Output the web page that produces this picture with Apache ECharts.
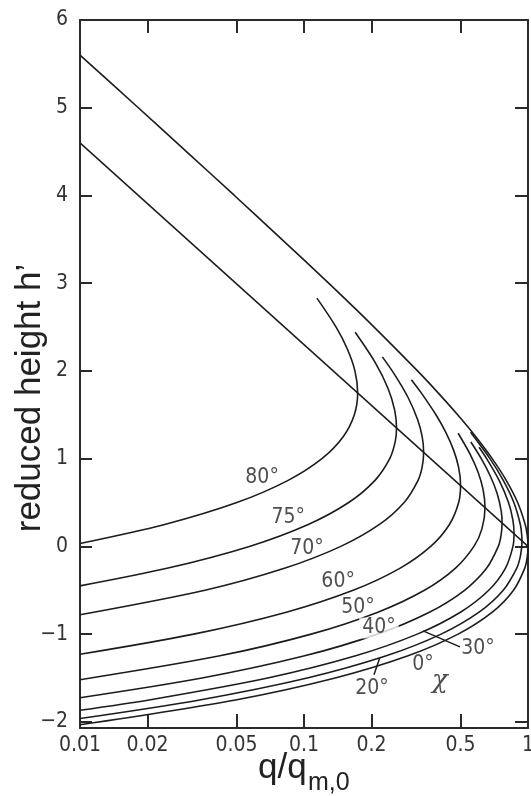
<!DOCTYPE html>
<html>
<head>
<meta charset="utf-8">
<script src="https://cdn.jsdelivr.net/npm/echarts@6/dist/echarts.min.js"></script>
<style>
  html, body { margin: 0; padding: 0; background: #fff; }
  #chart { width: 531px; height: 796px; }
</style>
</head>
<body>
<div id="chart"></div>
<script>
// axis ticks
const xTicks = [0.01, 0.02, 0.05, 0.1, 0.2, 0.5, 1];
const xMinorTicks = [0.02, 0.05, 0.1, 0.2, 0.5];
const yTicks = [-2, -1, 0, 1, 2, 3, 4, 5, 6];
const ySideTicks = [-2, -1, 0, 1, 2, 3, 4, 5];

// curves: [q/q_m,0, h'] per zenith angle
const chi0 = [[0.01, -2.033], [0.0495, -1.75], [0.1378, -1.5], [0.2893, -1.25], [0.4876, -1.0], [0.6928, -0.75],
  [0.8618, -0.5], [0.9666, -0.25], [0.9919, -0.125], [1, 0], [0.9925, 0.125], [0.9716, 0.25], [0.899, 0.5],
  [0.8006, 0.75], [0.6922, 1.0], [0.5848, 1.25], [0.4852, 1.5], [0.397, 1.75], [0.3213, 2.0], [0.2055, 2.5],
  [0.1288, 3.0], [0.0796, 3.5], [0.0489, 4.0], [0.02987, 4.5], [0.01821, 5.0], [0.01, 5.6]];
const chi20 = [[0.01, -1.962], [0.03424, -1.75], [0.1034, -1.5], [0.2312, -1.25], [0.4095, -1.0], [0.6048, -0.75],
  [0.7753, -0.5], [0.8901, -0.25], [0.9224, -0.125], [0.9378, 0], [0.9397, 0.062], [0.9378, 0.125], [0.9242, 0.25],
  [0.8647, 0.5], [0.7767, 0.75], [0.676, 1.0], [0.5543, 1.3]];
const chi30 = [[0.01, -1.867], [0.02034, -1.75], [0.06889, -1.5], [0.1686, -1.25], [0.3202, -1.0], [0.4993, -0.75],
  [0.6678, -0.5], [0.7925, -0.25], [0.8567, 0], [0.866, 0.15], [0.8561, 0.3], [0.8185, 0.5], [0.7442, 0.75],
  [0.6539, 1.0], [0.6047, 1.13]];
const chi40 = [[0.01, -1.725], [0.03508, -1.5], [0.09966, -1.25], [0.2126, -1.0], [0.3629, -0.75], [0.5209, -0.5],
  [0.653, -0.25], [0.7368, 0], [0.758, 0.125], [0.766, 0.27], [0.7596, 0.4], [0.7288, 0.6], [0.6794, 0.8],
  [0.6186, 1.0], [0.5559, 1.19]];
const chi50 = [[0.01, -1.52], [0.04158, -1.25], [0.1077, -1.0], [0.2137, -0.75], [0.3448, -0.5], [0.4735, -0.25],
  [0.5737, 0], [0.6227, 0.2], [0.6428, 0.44], [0.63, 0.65], [0.5976, 0.85], [0.5519, 1.05], [0.4876, 1.29]];
const chi60 = [[0.01, -1.23], [0.03218, -1.0], [0.08341, -0.75], [0.1657, -0.5], [0.2677, -0.25], [0.3679, 0],
  [0.446, 0.25], [0.4902, 0.5], [0.5, 0.7], [0.4901, 0.9], [0.465, 1.1], [0.4296, 1.3], [0.3882, 1.5],
  [0.3337, 1.75], [0.3015, 1.9]];
const chi70 = [[0.01, -0.78], [0.03614, -0.5], [0.08175, -0.25], [0.146, 0], [0.2172, 0.25], [0.2799, 0.5],
  [0.3226, 0.75], [0.3366, 0.9], [0.342, 1.07], [0.337, 1.25], [0.3211, 1.45], [0.2911, 1.7], [0.2551, 1.95],
  [0.2238, 2.16]];
const chi75 = [[0.01, -0.45], [0.02445, -0.25], [0.05706, 0], [0.1045, 0.25], [0.1583, 0.5], [0.207, 0.75],
  [0.2414, 1.0], [0.2557, 1.2], [0.2588, 1.35], [0.2541, 1.55], [0.2373, 1.8], [0.2074, 2.1], [0.1692, 2.44]];
const chi80 = [[0.01, 0.033], [0.02387, 0.25], [0.05015, 0.5], [0.08454, 0.75], [0.1202, 1.0], [0.1496, 1.25],
  [0.1678, 1.5], [0.1736, 1.75], [0.1688, 2.0], [0.1561, 2.25], [0.1391, 2.5], [0.1142, 2.83]];

// line through the maxima
const maxLine = [[0.01, 4.6], [1, 0]];

// curve labels
const labelTexts = ['80°', '75°', '70°', '60°', '50°', '40°', '30°', '0°', '20°', 'χ'];
const labelQ = [0.065, 0.085, 0.103, 0.142, 0.174, 0.216, 0.598, 0.34, 0.201, 0.404];
const labelH = [0.78, 0.325, -0.02, -0.40, -0.70, -0.93, -1.17, -1.35, -1.62, -1.54];

// leader lines for 30° and 20°
const leader30 = [[0.34, -0.963], [0.497, -1.145]];
const leader20 = [[0.218, -1.27], [0.2053, -1.464]];

const curves = [chi0, chi20, chi30, chi40, chi50, chi60, chi70, chi75, chi80];

const ink = '#1c1c1c';
const axisInk = '#2a2a2a';
const tickFont = "'Liberation Sans Narrow', 'DejaVu Sans Condensed', sans-serif";
const bigFont = "'Liberation Sans', Arial, sans-serif";

const lineStyle = { color: ink, width: 1.6 };

const series = curves.map(d => ({
  type: 'line',
  data: d,
  xAxisIndex: 0,
  yAxisIndex: 0,
  symbol: 'none',
  smooth: 0.3,
  lineStyle: lineStyle,
  silent: true
}));

[maxLine, leader30, leader20].forEach(d => {
  series.push({
    type: 'line', data: d, xAxisIndex: 0, yAxisIndex: 0,
    symbol: 'none', lineStyle: { color: ink, width: 1.5 }, silent: true
  });
});

series.push({
  type: 'scatter',
  xAxisIndex: 0,
  yAxisIndex: 0,
  symbolSize: 0,
  silent: true,
  z: 5,
  label: {
    show: true,
    position: 'inside',
    formatter: '{b}',
    color: '#222',
    fontFamily: "'DejaVu Sans Condensed', 'DejaVu Sans', sans-serif",
    fontSize: 21
  },
  data: labelTexts.map((t, i) => {
    const item = { name: t, value: [labelQ[i], labelH[i]] };
    if (t === '40°') item.label = { backgroundColor: '#fff', padding: [0, 3] };
    if (t === 'χ') item.label = { fontStyle: 'italic', fontSize: 26, fontFamily: "'DejaVu Serif', serif" };
    return item;
  })
});

const log10 = v => Math.log10(v);
const fmtX = v => {
  const t = xTicks.find(k => Math.abs(Math.log10(k) - v) < 1e-6);
  return t === undefined ? '' : String(t);
};

const frameLine = { show: true, onZero: false, lineStyle: { color: axisInk, width: 2 } };
const tickLine = { color: axisInk, width: 2 };

const option = {
  animation: false,
  backgroundColor: '#fff',
  grid: { left: 80, right: 3, top: 20, bottom: 68, containLabel: false, outerBoundsMode: 'none' },
  xAxis: [
    {
      type: 'log', logBase: 10, min: 0.01, max: 1, position: 'bottom',
      axisLine: { show: false, onZero: false }, axisTick: { show: false }, axisLabel: { show: false },
      splitLine: { show: false }, minorTick: { show: false }
    },
    {
      type: 'value', min: -2, max: 0, position: 'bottom',
      axisLine: frameLine,
      axisTick: { show: true, inside: true, length: 14, customValues: xMinorTicks.map(log10), lineStyle: tickLine },
      axisLabel: { show: true, customValues: xTicks.map(log10), formatter: fmtX, margin: 7,
        fontFamily: tickFont, fontSize: 21, color: '#333' },
      splitLine: { show: false }
    },
    {
      type: 'value', min: -2, max: 0, position: 'top',
      axisLine: frameLine,
      axisTick: { show: true, inside: true, length: 13, customValues: xMinorTicks.map(log10), lineStyle: tickLine },
      axisLabel: { show: false },
      splitLine: { show: false }
    }
  ],
  yAxis: [
    {
      type: 'value', min: -2.07, max: 6, position: 'left',
      axisLine: frameLine,
      axisTick: { show: true, inside: true, length: 12, customValues: ySideTicks, lineStyle: tickLine },
      axisLabel: { show: true, customValues: yTicks, margin: 12,
        formatter: v => (v < 0 ? '\u2212' + (-v) : String(v)),
        fontFamily: tickFont, fontSize: 21, color: '#333' },
      splitLine: { show: false }
    },
    {
      type: 'value', min: -2.07, max: 6, position: 'right',
      axisLine: frameLine,
      axisTick: { show: true, inside: true, length: 13, customValues: ySideTicks, lineStyle: tickLine },
      axisLabel: { show: false },
      splitLine: { show: false }
    }
  ],
  graphic: [
    {
      type: 'text', x: 30, y: 398, rotation: Math.PI / 2,
      style: { text: 'reduced height h\u2019', font: '35px ' + bigFont, fill: '#222',
        textAlign: 'center', textVerticalAlign: 'middle' }
    },
    {
      type: 'text', x: 258, y: 768,
      style: { text: 'q/q', font: '35px ' + bigFont, fill: '#222',
        textAlign: 'left', textVerticalAlign: 'middle' }
    },
    {
      type: 'text', x: 308, y: 783,
      style: { text: 'm,0', font: '25px ' + bigFont, fill: '#222',
        textAlign: 'left', textVerticalAlign: 'middle' }
    }
  ],
  series: series
};

const chart = echarts.init(document.getElementById('chart'));
chart.setOption(option);
</script>
</body>
</html>
